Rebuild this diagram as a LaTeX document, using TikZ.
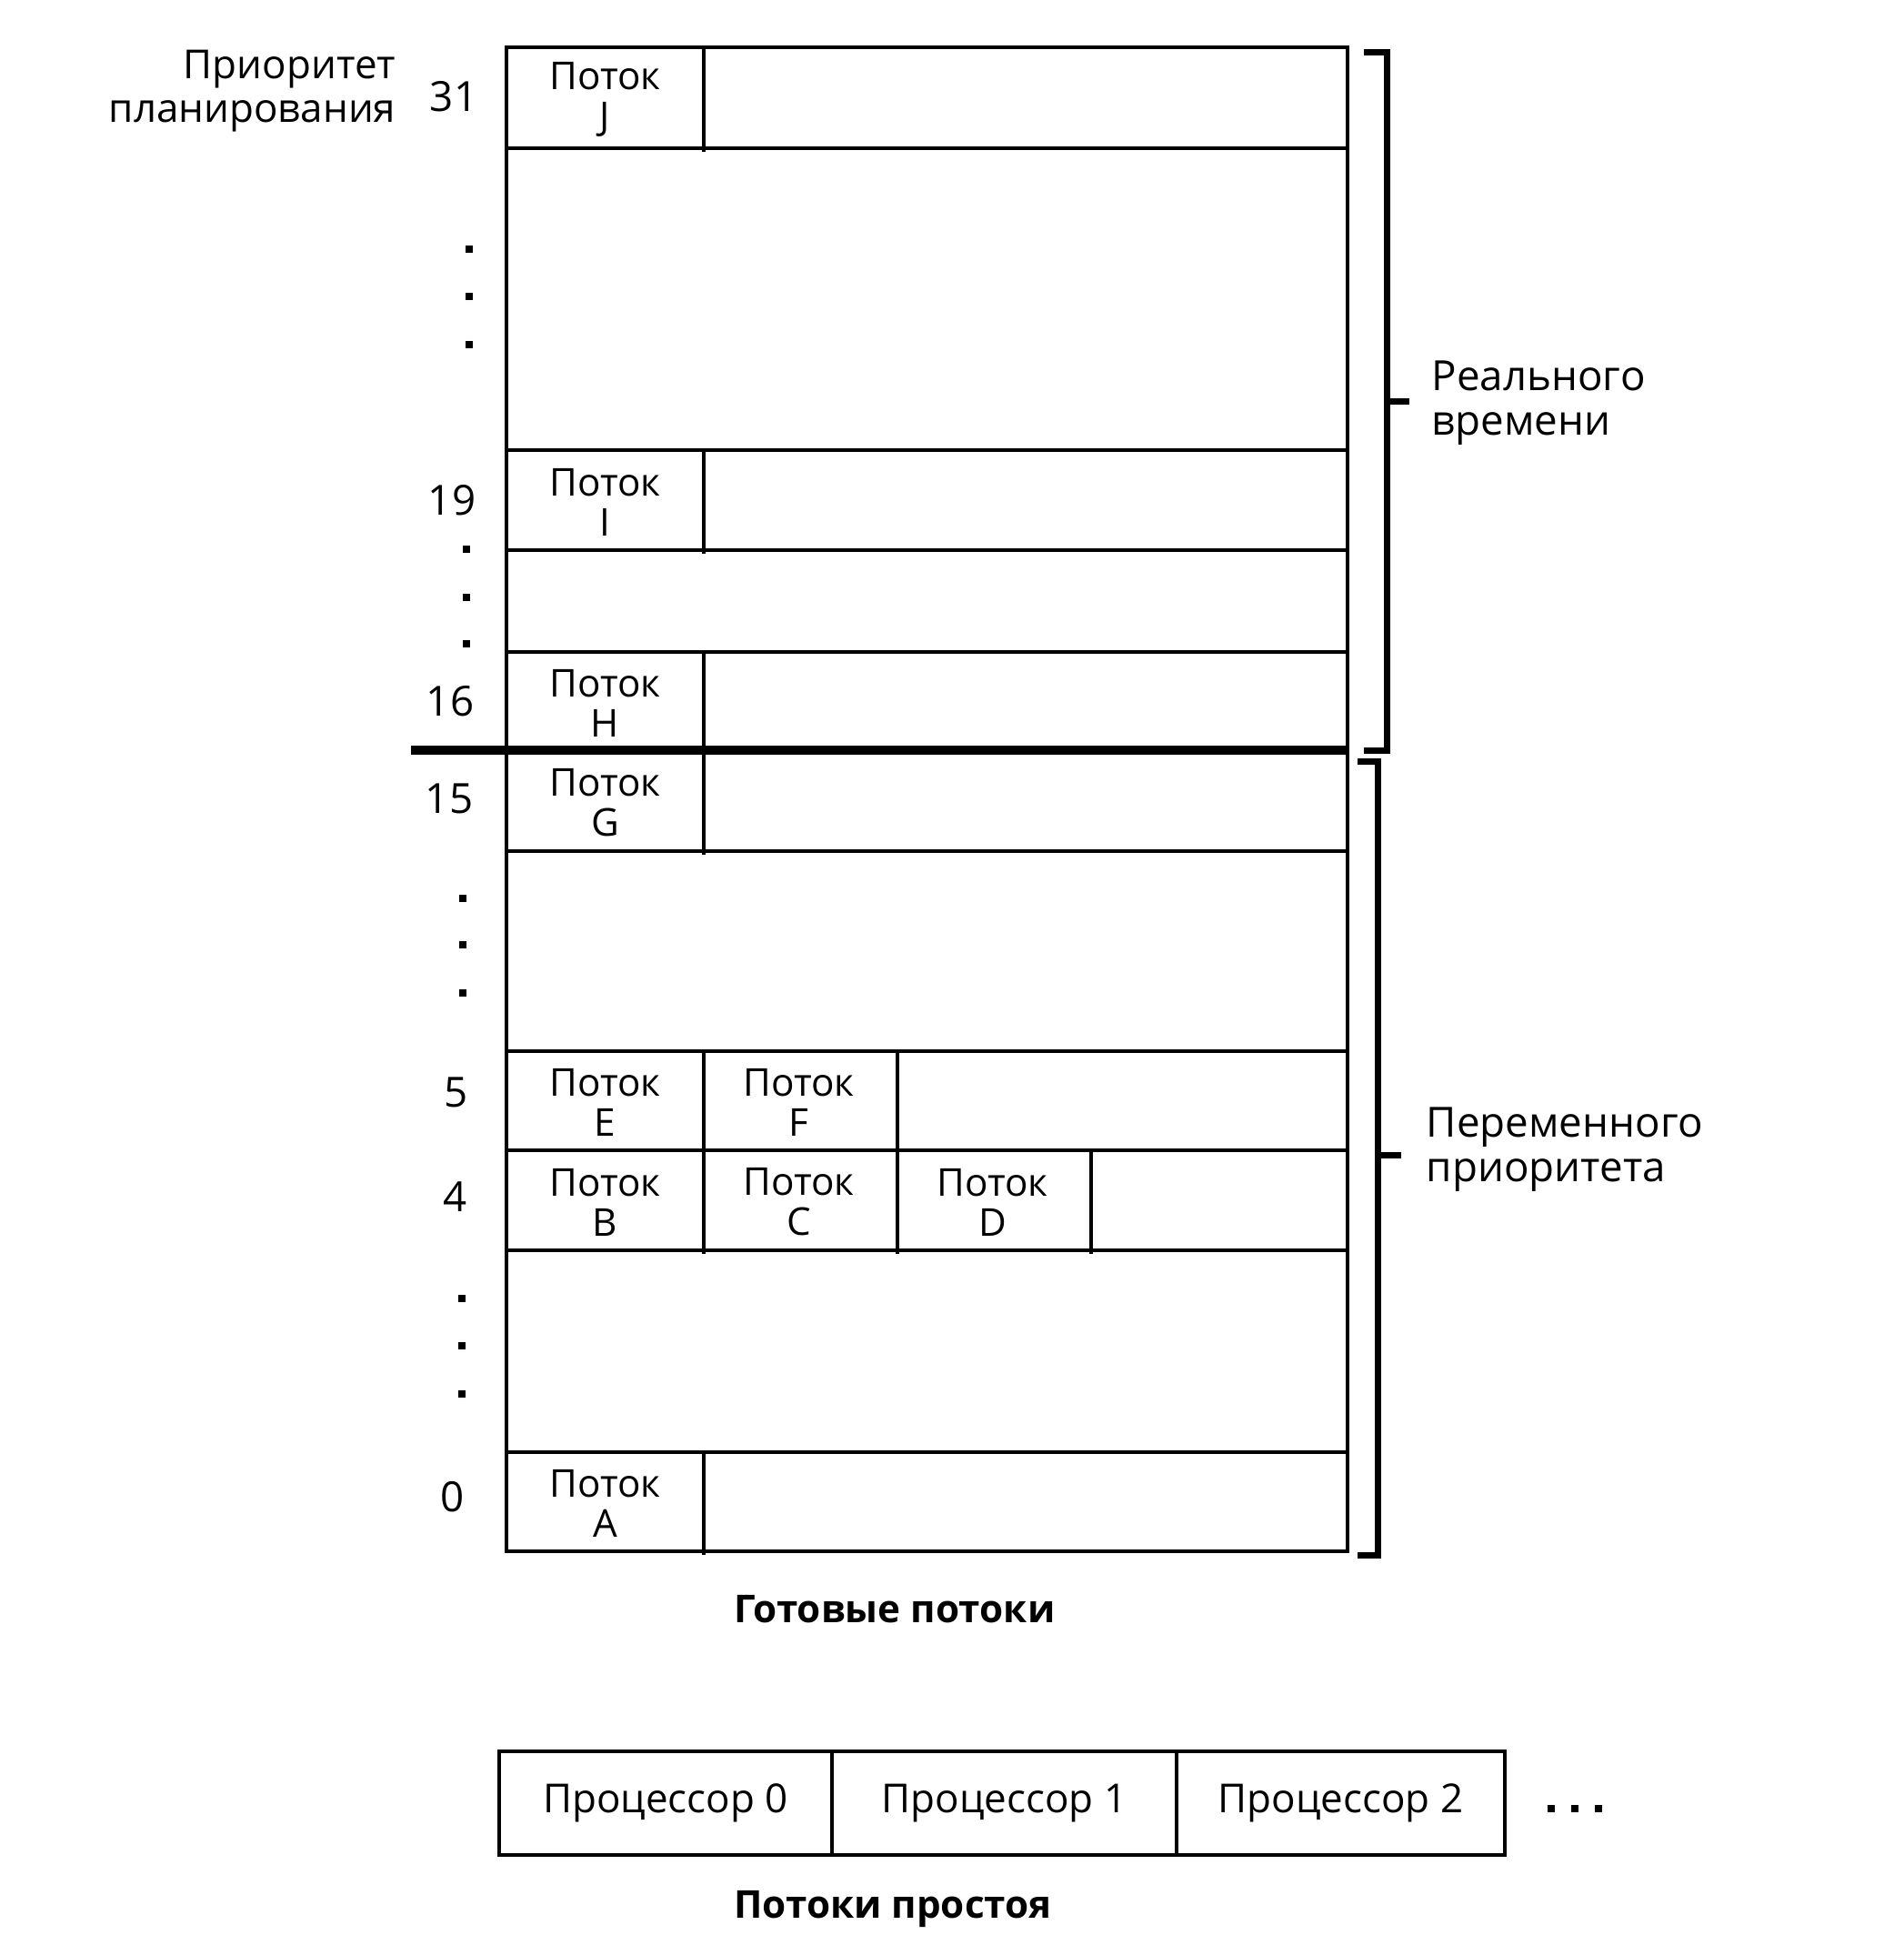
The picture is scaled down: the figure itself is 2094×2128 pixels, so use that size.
\documentclass[tikz,border=0pt]{standalone}
\usepackage{fontspec}
\setmainfont{Open Sans}
\begin{document}
\begin{tikzpicture}[x=0.1mm,y=-0.1mm,line width=0.4mm,
  every node/.style={font=\fontsize{12}{12.5}\selectfont},
  cell/.style={anchor=north west,minimum width=21.3mm,inner sep=0pt,align=center},
  proc/.style={draw,line width=0.4mm,anchor=north west,minimum height=11.4mm,inner sep=0pt,font=\fontsize{12.5}{14}\selectfont},
  num/.style={font=\fontsize{13}{14}\selectfont},
  side/.style={anchor=west,align=left,font=\fontsize{13}{14}\selectfont},
  caption/.style={font=\bfseries\fontsize{12}{14}\selectfont},
  brk/.style={line width=0.7mm},
  dot/.style={fill=black}]
\useasboundingbox (0,0) rectangle (2094,2128);
% main column
\draw (557,52) rectangle (1482,1706);
\foreach \y in {163,495,605,717,936,1156,1265,1375,1597}
  \draw (557,\y) -- (1482,\y);
\draw[line width=1mm] (452,825) -- (1482,825);
% cells
\node[cell,minimum height=11.1mm] (cJ) at (557,52)   {Поток\\J};
\node[cell,minimum height=11.0mm] (cI) at (557,495)  {Поток\\I};
\node[cell,minimum height=10.8mm] (cH) at (557,717)  {Поток\\H};
\node[cell,minimum height=11.1mm] (cG) at (557,825)  {Поток\\G};
\node[cell,minimum height=10.9mm] (cE) at (557,1156) {Поток\\E};
\node[cell,minimum height=10.9mm] (cF) at (770,1156) {Поток\\F};
\node[cell,minimum height=11.0mm] (cB) at (557,1265) {Поток\\B};
\node[cell,minimum height=11.0mm] (cC) at (770,1265) {Поток\\C};
\node[cell,minimum height=11.0mm] (cD) at (983,1265) {Поток\\D};
\node[cell,minimum height=10.9mm] (cA) at (557,1597) {Поток\\A};
\foreach \c in {cJ,cI,cH,cG,cE,cF,cB,cC,cD,cA}
  \draw (\c.north east) -- (\c.south east);
% left labels
\node[anchor=east,align=right,font=\fontsize{12.5}{13.5}\selectfont] (prio) at (449,100) {Приоритет\\планирования};
\node[num] (n31) at (499,106) {31};
\node[num] (n19) at (497,550) {19};
\node[num] (n16) at (495,771) {16};
\node[num] (n15) at (494,878) {15};
\node[num] (n5) at (502,1201) {5};
\node[num] (n4) at (501,1316) {4};
\node[num] (n0) at (498,1646) {0};
\foreach \x/\y in {516/274,516/326,516/379,513/604,513/657,513/708,509/988,509/1039,509/1092,508/1428,508/1480,508/1533}
  \fill[dot] (\x-4,\y-4) rectangle (\x+4,\y+4);
% brackets
\coordinate (u1) at (1500,57);
\coordinate (u2) at (1500,825);
\draw[brk] (u1) -- (1525,57) -- (1525,825) -- (u2);
\draw[brk] (1525,441) -- (1550,441);
\node[side] (rt) at (1561,443) {Реального\\времени};
\coordinate (l1) at (1493,837);
\coordinate (l2) at (1493,1710);
\draw[brk] (l1) -- (1515,837) -- (1515,1710) -- (l2);
\draw[brk] (1515,1270) -- (1541,1270);
\node[side] (vp) at (1555,1264) {Переменного\\приоритета};
% captions
\node[caption] (ready) at (984,1770) {Готовые потоки};
% processors
\node[proc,minimum width=36.6mm] (p0) at (547,1924) {Процессор 0};
\node[proc,minimum width=37.9mm] (p1) at (913,1924) {Процессор 1};
\node[proc,minimum width=36.1mm] (p2) at (1292,1924) {Процессор 2};
\foreach \x in {1706,1732,1758}
  \fill[dot] (\x-4,1989-4) rectangle (\x+4,1989+4);
\node[caption] (idle) at (982,2099) {Потоки простоя};
\end{tikzpicture}
\end{document}
